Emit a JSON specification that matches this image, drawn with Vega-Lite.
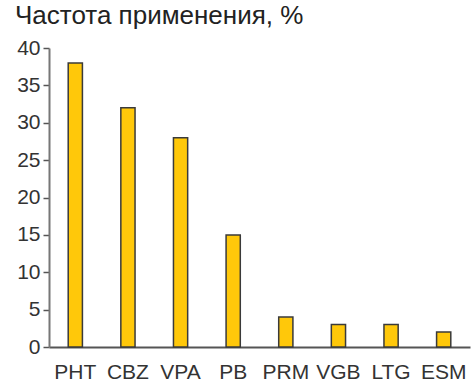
{
  "$schema": "https://vega.github.io/schema/vega-lite/v6.json",
  "width": 421,
  "height": 299,
  "autosize": {"type": "none"},
  "padding": {"left": 49, "top": 48, "right": 6, "bottom": 41},
  "background": "white",
  "title": {
    "text": "Частота применения, %",
    "anchor": "start",
    "frame": "group",
    "dx": -34,
    "dy": -8,
    "offset": 0,
    "baseline": "top",
    "fontSize": 26,
    "font": "Liberation Sans",
    "fontWeight": "normal",
    "color": "#222222"
  },
  "config": {
    "view": {"stroke": null},
    "axis": {"labelFont": "Liberation Sans", "labelFontSize": 21, "labelColor": "#333333", "grid": false}
  },
  "data": {
    "values": [
      {"drug": "PHT", "pct": 38},
      {"drug": "CBZ", "pct": 32},
      {"drug": "VPA", "pct": 28},
      {"drug": "PB", "pct": 15},
      {"drug": "PRM", "pct": 4},
      {"drug": "VGB", "pct": 3},
      {"drug": "LTG", "pct": 3},
      {"drug": "ESM", "pct": 2}
    ]
  },
  "mark": {"type": "bar", "fill": "#FFC80A", "stroke": "#3a3a3a", "strokeWidth": 1.5},
  "encoding": {
    "x": {
      "field": "drug",
      "type": "nominal",
      "sort": null,
      "scale": {"paddingInner": 0.73, "paddingOuter": 0.365},
      "axis": {"title": null, "labelAngle": 0, "ticks": false, "domainColor": "#555555", "domainWidth": 2, "labelPadding": 14}
    },
    "y": {
      "field": "pct",
      "type": "quantitative",
      "scale": {"domain": [0, 40]},
      "axis": {"title": null, "values": [0, 5, 10, 15, 20, 25, 30, 35, 40], "domainColor": "#777777", "domainWidth": 2, "tickColor": "#555555", "tickWidth": 1.5, "tickSize": 6, "labelPadding": 3}
    }
  }
}
